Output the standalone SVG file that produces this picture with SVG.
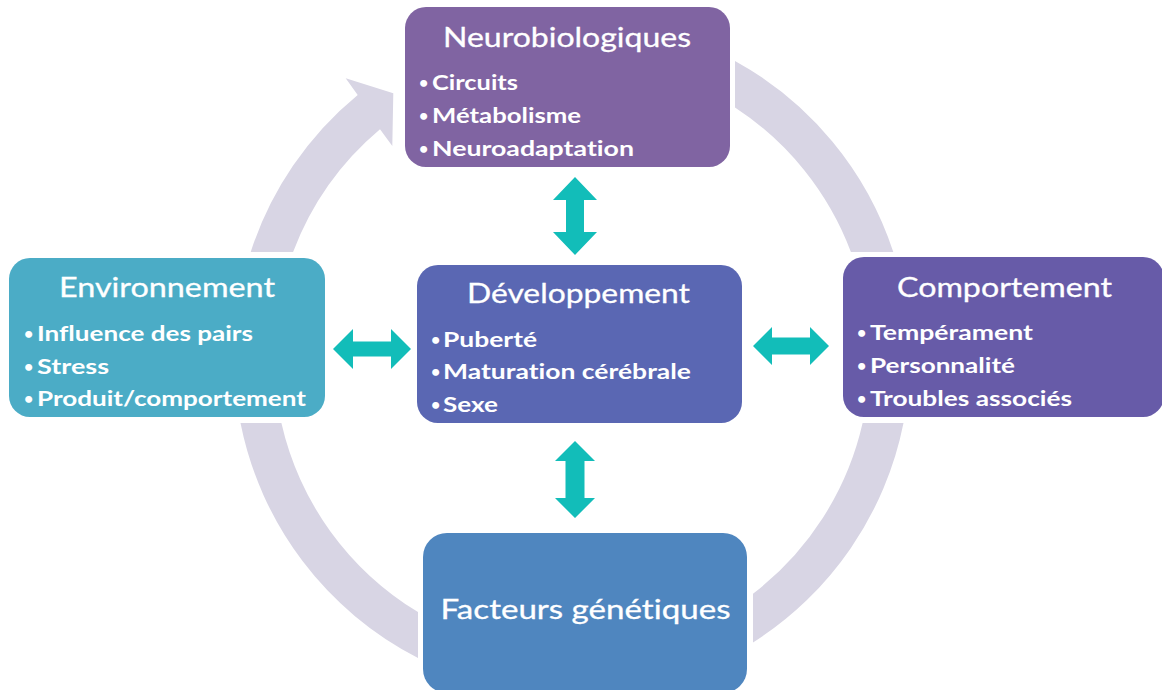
<svg xmlns="http://www.w3.org/2000/svg" width="1162" height="690" viewBox="0 0 1162 690">
<style>
.ring{fill:#D8D5E4}
.dbl{fill:#12BDB9}
text{font-family:Lato,"Noto Sans","Liberation Sans",sans-serif;fill:#FFFFFF;font-variant-ligatures:none;font-feature-settings:"liga" 0}
.t{font-size:27px;font-weight:400;text-anchor:middle;stroke:#FFFFFF;stroke-width:0.3}
.i{font-size:21px;font-weight:700}
.b{font-size:16px;font-weight:700}
</style>
<rect width="1162" height="690" fill="#FFFFFF"/>
<g id="connectors">
<path class="ring" d="M250.7,252 A338,338 0 0 1 357.7,95 L345.7,78.3 L393.3,93.3 L392.3,146 L380,129.3 A298,298 0 0 0 293.1,252 Z"/>
<path class="ring" d="M735,60.9 A338,338 0 0 1 893.3,252 L850.9,252 A298,298 0 0 0 735,107.5 Z"/>
<path class="ring" d="M903.5,423 A338,338 0 0 1 753,642.5 L753,593.7 A298,298 0 0 0 862.6,423 Z"/>
<path class="ring" d="M418,657.9 A338,338 0 0 1 240.5,423 L281.4,423 A298,298 0 0 0 418,612.1 Z"/>
<path class="dbl" d="M575,177 L597,200 L584,200 L584,232 L597,232 L575,255 L553,232 L566,232 L566,200 L553,200 Z"/>
<path class="dbl" d="M575,441 L595,461 L584.5,461 L584.5,498 L595,498 L575,518 L555,498 L565.5,498 L565.5,461 L555,461 Z"/>
<path class="dbl" d="M333,349 L353,329 L353,341.5 L391,341.5 L391,329 L411,349 L391,369 L391,356.5 L353,356.5 L353,369 Z"/>
<path class="dbl" d="M753,346 L772,327 L772,337.5 L810,337.5 L810,327 L829,346 L810,365 L810,354.5 L772,354.5 L772,365 Z"/>
</g>
<g id="neurobiologiques">
<rect x="405" y="7" width="325" height="160" rx="21" fill="#8064A2"/>
<text class="t" x="567" y="47" textLength="248" lengthAdjust="spacingAndGlyphs">Neurobiologiques</text>
<text class="b" x="419" y="88">•</text><text class="i" x="432" y="90" textLength="86" lengthAdjust="spacingAndGlyphs">Circuits</text>
<text class="b" x="419" y="121">•</text><text class="i" x="432" y="123" textLength="149" lengthAdjust="spacingAndGlyphs">Métabolisme</text>
<text class="b" x="419" y="154">•</text><text class="i" x="432" y="156" textLength="202" lengthAdjust="spacingAndGlyphs">Neuroadaptation</text>
</g>
<g id="environnement">
<rect x="9" y="258" width="316" height="159" rx="21" fill="#4BACC6"/>
<text class="t" x="167" y="297" textLength="216" lengthAdjust="spacingAndGlyphs">Environnement</text>
<text class="b" x="24" y="339">•</text><text class="i" x="37" y="341" textLength="216" lengthAdjust="spacingAndGlyphs">Influence des pairs</text>
<text class="b" x="24" y="372">•</text><text class="i" x="37" y="374" textLength="72" lengthAdjust="spacingAndGlyphs">Stress</text>
<text class="b" x="24" y="404">•</text><text class="i" x="37" y="406" textLength="269" lengthAdjust="spacingAndGlyphs">Produit/comportement</text>
</g>
<g id="developpement">
<rect x="417" y="265" width="325" height="158" rx="21" fill="#5A67B3"/>
<text class="t" x="578.5" y="303" textLength="223" lengthAdjust="spacingAndGlyphs">Développement</text>
<text class="b" x="431" y="345">•</text><text class="i" x="443" y="347" textLength="94" lengthAdjust="spacingAndGlyphs">Puberté</text>
<text class="b" x="431" y="377">•</text><text class="i" x="443" y="379" textLength="248" lengthAdjust="spacingAndGlyphs">Maturation cérébrale</text>
<text class="b" x="431" y="410">•</text><text class="i" x="443" y="412" textLength="55" lengthAdjust="spacingAndGlyphs">Sexe</text>
</g>
<g id="comportement">
<rect x="843" y="257" width="321" height="160" rx="21" fill="#675BA8"/>
<text class="t" x="1004.5" y="297" textLength="215" lengthAdjust="spacingAndGlyphs">Comportement</text>
<text class="b" x="857" y="338">•</text><text class="i" x="870" y="340" textLength="163" lengthAdjust="spacingAndGlyphs">Tempérament</text>
<text class="b" x="857" y="371">•</text><text class="i" x="870" y="373" textLength="145" lengthAdjust="spacingAndGlyphs">Personnalité</text>
<text class="b" x="857" y="404">•</text><text class="i" x="870" y="406" textLength="202" lengthAdjust="spacingAndGlyphs">Troubles associés</text>
</g>
<g id="facteurs">
<rect x="423" y="533" width="324" height="160" rx="24" fill="#4F86BF"/>
<text class="t" x="585.5" y="619" textLength="290" lengthAdjust="spacingAndGlyphs">Facteurs génétiques</text>
</g>
</svg>
